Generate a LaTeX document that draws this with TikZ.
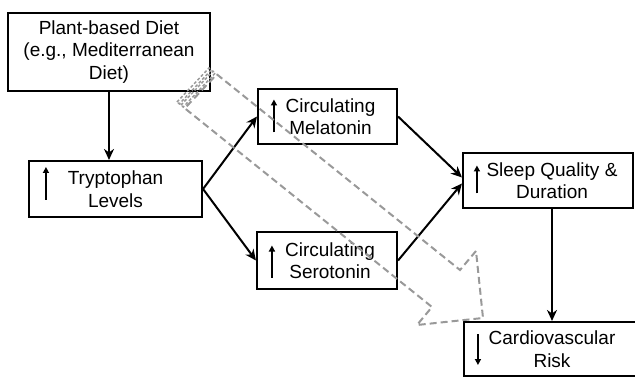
\documentclass[tikz,border=0pt]{standalone}
\usepackage{fontspec}
\setmainfont{Liberation Sans}
\usetikzlibrary{arrows.meta,calc}
\tikzset{
    box/.style={draw, line width=2.1pt, align=center, inner sep=0pt, font=\fontsize{19}{22.5}\selectfont},
    flow/.style={-{Stealth[length=11pt,width=10pt,inset=3.5pt]}, line width=2pt},
    upmark/.style={-{Triangle[length=6pt,width=6pt]}, line width=2pt},
    hint/.style={draw=black!40, line width=2pt, dash pattern=on 7pt off 4pt},
}
\begin{document}
\begin{tikzpicture}[x=1pt,y=-1pt]
            \useasboundingbox (0,0) rectangle (635,377);
            \node[box, minimum width=202pt, minimum height=78pt] (diet) at (109,52) {Plant-based Diet\\(e.g., Mediterranean\\Diet)};
            \node[box, minimum width=173pt, minimum height=56pt] (tryp) at (115.5,189) {Tryptophan\\Levels};
            \node[box, minimum width=139pt, minimum height=55pt] (mel) at (327.5,116.5) {\hspace*{6pt}Circulating\\\hspace*{6pt}Melatonin};
            \node[box, minimum width=140pt, minimum height=57pt] (sero) at (327,260.5) {\hspace*{6pt}Circulating\\\hspace*{6pt}Serotonin};
            \node[box, minimum width=170pt, minimum height=55pt] (sleep) at (548,180.5) {\hspace*{8pt}Sleep Quality \&\\\hspace*{8pt}Duration};
            \node[box, minimum width=176pt, minimum height=54pt] (risk) at (552,349) {Cardiovascular\\Risk};

            % small marks inside the boxes
            \draw[upmark] ($(tryp.west)+(18,11)$) -- ++(0,-33);
            \draw[upmark] ($(mel.west)+(17,16)$) -- ++(0,-33);
            \draw[upmark] ($(sero.west)+(16,17)$) -- ++(0,-32);
            \draw[upmark] ($(sleep.west)+(15,13)$) -- ++(0,-28);
            \draw[upmark] ($(risk.west)+(15,-15)$) -- ++(0,31);

            \draw[flow] (diet.south) -- (diet.south |- tryp.north);
            \draw[flow] (tryp.east) -- (mel.west);
            \draw[flow] (tryp.east) -- (sero.west);
            \draw[flow] (mel.east) -- ($(sleep.west)+(0,-3)$);
            \draw[flow] (sero.east) -- ($(sleep.west)+(0,3)$);
            \draw[flow] (sleep.south -| risk.north) -- (risk.north);

            % big dashed arrow
            \draw[hint] (216.8,74.3) -- (460,270) -- (476,251) -- (483,318) -- (417,325) -- (432,307) -- (184.8,108.3) -- cycle;
            \foreach \a/\b in {0/3, 5/8}{
                    \draw[hint, line width=1.5pt, dash pattern=on 3pt off 2pt] ($(177,102)+\a*(0.78,0.63)$) -- ($(209,68)+\a*(0.78,0.63)$)
                        -- ($(209,68)+\b*(0.78,0.63)$) -- ($(177,102)+\b*(0.78,0.63)$) -- cycle;
                }

        \end{tikzpicture}
\end{document}
